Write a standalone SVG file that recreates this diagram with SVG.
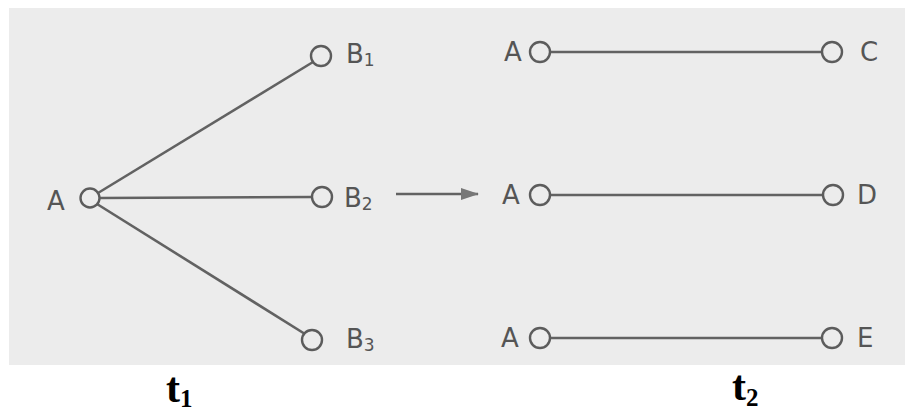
<svg xmlns="http://www.w3.org/2000/svg" width="905" height="412" viewBox="0 0 905 412">
<defs>
<style>
.lbl{font-family:"DejaVu Sans","Open Sans",sans-serif;font-size:26px;fill:#555}
.sub{font-size:17px}
.node{fill:none;stroke:#5c5c5c;stroke-width:2.4}
.edge{stroke:#626262;stroke-width:2.6;fill:none}
.t{font-family:"Liberation Serif","Times New Roman",serif;font-weight:bold;font-size:42px;fill:#000}
.ts{font-size:25px}
</style>
<marker id="ah" markerWidth="18" markerHeight="12" refX="17" refY="6" orient="auto" markerUnits="userSpaceOnUse" viewBox="0 0 18 12">
<path d="M0,0 L18,6 L0,12 Z" fill="#777"/>
</marker>
</defs>
<rect x="0" y="0" width="905" height="412" fill="#fff"/>
<rect x="9" y="8" width="896" height="357" fill="#ececec"/>
<g id="connectors">
<line class="edge" x1="98" y1="193" x2="313" y2="62"/>
<line class="edge" x1="99" y1="198" x2="313" y2="197"/>
<line class="edge" x1="97" y1="204" x2="305" y2="334"/>
<line class="edge" x1="396" y1="194" x2="478" y2="194" stroke="#777" stroke-width="3" marker-end="url(#ah)"/>
<line class="edge" x1="550" y1="52" x2="823" y2="52"/>
<line class="edge" x1="550" y1="195" x2="824" y2="195"/>
<line class="edge" x1="550" y1="338" x2="823" y2="338"/>
</g>
<g id="nodeA"><circle class="node" cx="90" cy="198" r="9.5"/><text class="lbl" x="47" y="210">A</text></g>
<g id="nodeB1"><circle class="node" cx="321" cy="56" r="10"/><text class="lbl" x="346" y="63">B<tspan class="sub" dy="3">1</tspan></text></g>
<g id="nodeB2"><circle class="node" cx="322" cy="197" r="10"/><text class="lbl" x="344" y="207">B<tspan class="sub" dy="3">2</tspan></text></g>
<g id="nodeB3"><circle class="node" cx="312" cy="340" r="10"/><text class="lbl" x="346" y="348">B<tspan class="sub" dy="3">3</tspan></text></g>
<g id="nodeA1"><circle class="node" cx="540" cy="52" r="10"/><text class="lbl" x="504" y="61">A</text></g>
<g id="nodeC"><circle class="node" cx="832" cy="52" r="10"/><text class="lbl" x="860" y="61">C</text></g>
<g id="nodeA2"><circle class="node" cx="540" cy="195" r="10"/><text class="lbl" x="502" y="204">A</text></g>
<g id="nodeD"><circle class="node" cx="833" cy="195" r="10"/><text class="lbl" x="857" y="204">D</text></g>
<g id="nodeA3"><circle class="node" cx="540" cy="338" r="10"/><text class="lbl" x="501" y="347">A</text></g>
<g id="nodeE"><circle class="node" cx="832" cy="338" r="10"/><text class="lbl" x="857" y="347">E</text></g>
<g id="labelT1"><text class="t" x="166" y="402">t<tspan class="ts" dy="5">1</tspan></text></g>
<g id="labelT2"><text class="t" x="732" y="400">t<tspan class="ts" dy="6">2</tspan></text></g>
</svg>
